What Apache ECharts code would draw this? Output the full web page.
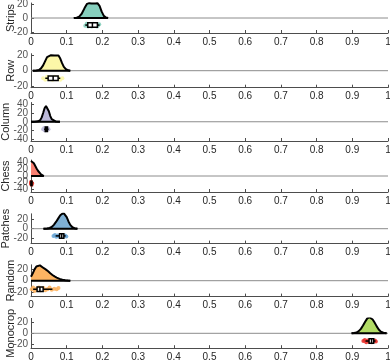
<!DOCTYPE html>
<html><head><meta charset="utf-8">
<script src="https://cdn.jsdelivr.net/npm/echarts@6/dist/echarts.min.js"></script>
<style>html,body{margin:0;padding:0;background:#fff}#c{width:390px;height:363px}</style>
</head><body><div id="c"></div>
<script>
const groups = ['Strips','Row','Column','Chess','Patches','Random','Monocrop'];
const fillColors = ['#86cfbd','#fcf7a8','#bcb9d8','#f98173','#7fb0d4','#fdb462','#b2dc66'];
const pointColors = ['#86cfbd','#fcf7a8','#bcb9d8','#e8392c','#6aa6d6','#fdb462','#e8302a'];
const xTicks = [0,0.1,0.2,0.3,0.4,0.5,0.6,0.7,0.8,0.9,1];
const yTicksSmall = [-20,0,20];
const yTicksLarge = [-40,-20,0,20,40];

// density curves (x, y)
const stripsDX = [0.120,0.128,0.135,0.142,0.150,0.157,0.163,0.170,0.175,0.180,0.186,0.192,0.198,0.204,0.210,0.216];
const stripsDY = [0,0.5,2,6,14,20,21,20.5,19,20.5,21,17,9,3,0.7,0];
const rowDX = [0.005,0.015,0.022,0.028,0.034,0.040,0.045,0.050,0.056,0.061,0.066,0.071,0.077,0.082,0.087,0.092,0.098,0.104,0.110];
const rowDY = [0,0.3,1,3,7,13,18,20,20.5,19,20,21,20,16,10,5,2,0.5,0];
const columnDX = [0,0.010,0.020,0.026,0.030,0.034,0.038,0.042,0.046,0.050,0.054,0.058,0.063,0.070,0.081];
const columnDY = [0,0.1,1,4,10,20,31,36,33,24,13,6,2,0.4,0];
const chessDX = [0,0.004,0.008,0.012,0.016,0.020,0.024,0.028,0.032,0.036];
const chessDY = [45,43,38,30,22,15,9,5,2,0];
const patchesDX = [0.035,0.045,0.052,0.058,0.064,0.070,0.076,0.082,0.087,0.091,0.095,0.100,0.105,0.110,0.116,0.122,0.130];
const patchesDY = [0,0.5,1.5,3.5,8,14,21,28,32,33,31,24,15,8,3,1,0];
const randomDX = [0,0.005,0.010,0.015,0.020,0.025,0.030,0.036,0.042,0.048,0.054,0.060,0.066,0.072,0.080,0.088,0.096,0.104,0.110];
const randomDY = [7,13,20,25,27.5,27,25,22,19.5,16.5,13,10,7.5,5.5,3.2,1.8,0.9,0.3,0];
const monocropDX = [0.898,0.905,0.912,0.918,0.924,0.930,0.936,0.942,0.948,0.952,0.957,0.962,0.968,0.974,0.980,0.987,0.996];
const monocropDY = [0,0.5,1.5,4,8,14,21,27,29,28.5,25,20,13,7,3,1,0];

// box stats: [whiskerLow, q1, median, q3, whiskerHigh, yPosition]
const stripsBox = [0.152,0.159,0.172,0.186,0.192,-10];
const rowBox = [0.040,0.048,0.062,0.076,0.082,-10];
const columnBox = [0.037,0.040,0.043,0.046,0.049,-17];
const chessBox = [0,0,0.001,0.002,0.003,-22];
const patchesBox = [0.069,0.080,0.086,0.092,0.097,-15];
const randomBox = [0.006,0.017,0.025,0.034,0.060,-15];
const monocropBox = [0.937,0.947,0.954,0.960,0.965,-14];

// rain points
const stripsPX = [0.152,0.156,0.160,0.163,0.167,0.170,0.174,0.178,0.181,0.185,0.189,0.191];
const stripsPY = [-11,-8,-12,-9,-10,-12,-8,-11,-9,-12,-10,-9];
const rowPX = [0.034,0.040,0.045,0.050,0.055,0.060,0.066,0.071,0.077,0.082,0.088];
const rowPY = [-10,-12,-8,-11,-9,-12,-8,-11,-9,-12,-10];
const columnPX = [0.034,0.037,0.040,0.042,0.044,0.046,0.049,0.041,0.045,0.038];
const columnPY = [-17,-14,-20,-15,-19,-14,-17,-18,-16,-19];
const chessPX = [0,0.001,0.002,0.001,0,0.003];
const chessPY = [-18,-22,-26,-20,-24,-22];
const patchesPX = [0.063,0.067,0.071,0.075,0.079,0.083,0.087,0.091,0.095,0.099];
const patchesPY = [-15,-13,-17,-14,-16,-13,-17,-15,-14,-16];
const randomPX = [0.002,0.006,0.010,0.014,0.018,0.022,0.026,0.030,0.035,0.040,0.046,0.052,0.058,0.065,0.072,0.077];
const randomPY = [-15,-12,-18,-14,-16,-12,-17,-14,-13,-17,-15,-12,-16,-14,-15,-13];
const monocropPX = [0.931,0.935,0.939,0.943,0.947,0.951,0.955,0.959,0.963,0.966];
const monocropPY = [-14,-12,-16,-13,-15,-12,-16,-14,-13,-15];

const densX = [stripsDX,rowDX,columnDX,chessDX,patchesDX,randomDX,monocropDX];
const densY = [stripsDY,rowDY,columnDY,chessDY,patchesDY,randomDY,monocropDY];
const boxes = [stripsBox,rowBox,columnBox,chessBox,patchesBox,randomBox,monocropBox];
const ptsX = [stripsPX,rowPX,columnPX,chessPX,patchesPX,randomPX,monocropPX];
const ptsY = [stripsPY,rowPY,columnPY,chessPY,patchesPY,randomPY,monocropPY];
const yLims = [[-21.2,21.2],[-22.5,22.5],[-44,44],[-48,48],[-31,31],[-28,28],[-27,27]];
const yTickSets = [yTicksSmall,yTicksSmall,yTicksLarge,yTicksLarge,yTicksSmall,yTicksSmall,yTicksSmall];

// layout (pixels)
const gridTops = [3,53.7,102.5,160,213.8,264.8,318.4];
const gridHeights = [30,34,38.5,32,29.8,31.8,29.8];
const nameGaps = [15,15,20,20,20,15,15];

const font = 'Liberation Sans, Arial, Helvetica, sans-serif';
const txt = '#262626';
const axisCol = '#4d4d4d';

const grid=[], xAxis=[], yAxis=[], series=[];
groups.forEach((g,i)=>{
  grid.push({left:31,right:2,top:gridTops[i],height:gridHeights[i],containLabel:false,outerBoundsMode:'none'});
  xAxis.push({gridIndex:i,type:'value',min:0,max:1,interval:0.1,
    axisLine:{show:true,onZero:false,lineStyle:{color:axisCol,width:1}},
    axisTick:{show:true,inside:true,length:3,lineStyle:{color:axisCol}},
    axisLabel:{fontSize:10,color:txt,fontFamily:font,margin:4,hideOverlap:false,
      customValues:xTicks},
    splitLine:{show:false}});
  yAxis.push({gridIndex:i,type:'value',min:yLims[i][0],max:yLims[i][1],
    name:g,nameLocation:'middle',nameGap:nameGaps[i],nameMoveOverlap:false,
    nameTextStyle:{fontSize:11,color:txt,fontFamily:font},
    axisLine:{show:true,lineStyle:{color:axisCol,width:1}},
    axisTick:{show:true,inside:true,length:3,customValues:yTickSets[i],lineStyle:{color:axisCol}},
    axisLabel:{show:false},
    splitLine:{show:false}});
  // y tick labels as text labels placed by the axis scale
  series.push({type:'scatter',xAxisIndex:i,yAxisIndex:i,clip:false,silent:true,
    data:yTickSets[i].map(v=>[0,v]),symbolSize:0,
    label:{show:true,position:'left',distance:3,formatter:p=>String(p.value[1]),
      fontSize:10,color:txt,fontFamily:font},z:10});
  // zero line
  series.push({type:'line',xAxisIndex:i,yAxisIndex:i,data:[[0,0],[1,0]],symbol:'none',
    lineStyle:{color:'#8c8c8c',width:1},silent:true,z:1});
  // density
  const d = densX[i].map((x,k)=>[x,densY[i][k]]);
  series.push({type:'line',xAxisIndex:i,yAxisIndex:i,data:d,symbol:'none',
    lineStyle:{color:'#000',width:2},areaStyle:{color:fillColors[i],opacity:1,origin:0},z:3});
  // density base
  series.push({type:'line',xAxisIndex:i,yAxisIndex:i,
    data:[[densX[i][0],0],[densX[i][densX[i].length-1],0]],symbol:'none',
    lineStyle:{color:'#000',width:2},z:4});
  // rain points
  series.push({type:'scatter',xAxisIndex:i,yAxisIndex:i,
    data:ptsX[i].map((x,k)=>[x,ptsY[i][k]]),symbolSize:4,
    itemStyle:{color:pointColors[i],opacity:0.9},z:5});
  // box
  series.push({type:'custom',xAxisIndex:i,yAxisIndex:i,data:[boxes[i]],z:6,
    renderItem:(params,api)=>{
      const y=api.value(5);
      const pWl=api.coord([api.value(0),y]);
      const pQ1=api.coord([api.value(1),y]);
      const pMd=api.coord([api.value(2),y]);
      const pQ3=api.coord([api.value(3),y]);
      const pWh=api.coord([api.value(4),y]);
      const h=4.5, cy=pMd[1];
      const st={stroke:'#000',lineWidth:1.5};
      return {type:'group',children:[
        {type:'line',shape:{x1:pWl[0],y1:cy,x2:pQ1[0],y2:cy},style:st},
        {type:'line',shape:{x1:pQ3[0],y1:cy,x2:pWh[0],y2:cy},style:st},
        {type:'rect',shape:{x:pQ1[0],y:cy-h/2,width:Math.max(pQ3[0]-pQ1[0],1),height:h},
          style:{fill:'#fff',stroke:'#000',lineWidth:1.5}},
        {type:'line',shape:{x1:pMd[0],y1:cy-h/2,x2:pMd[0],y2:cy+h/2},style:st}
      ]};
    }});
});
const chart = echarts.init(document.getElementById('c'),null,{renderer:'canvas'});
chart.setOption({animation:false,grid,xAxis,yAxis,series});
</script></body></html>
